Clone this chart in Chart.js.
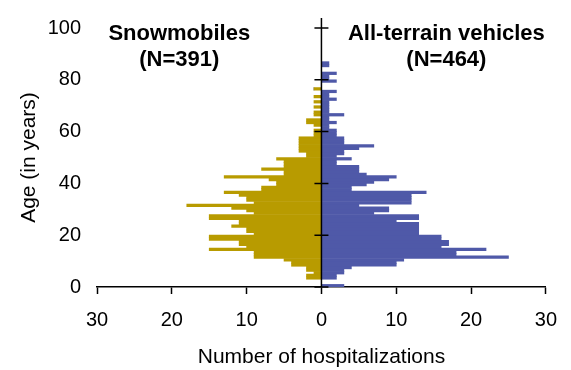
<!DOCTYPE html>
<html>
<head>
<meta charset="utf-8">
<script src="https://cdn.jsdelivr.net/npm/chart.js@4.4.0/dist/chart.umd.min.js"></script>
<style>
    html, body { margin: 0; padding: 0; background: #ffffff; }
    #cadre { width: 571px; height: 370px; }
</style>
</head>
<body>
<div id="cadre"><canvas id="graphPyramide"></canvas></div>
<script>
// ==========================================
// DONNÉES - hospitalisations par âge
// ==========================================

const ages = [
    0, 1, 2, 3, 4, 5, 6, 7, 8, 9,
    10, 11, 12, 13, 14, 15, 16, 17, 18, 19,
    20, 21, 22, 23, 24, 25, 26, 27, 28, 29,
    30, 31, 32, 33, 34, 35, 36, 37, 38, 39,
    40, 41, 42, 43, 44, 45, 46, 47, 48, 49,
    50, 51, 52, 53, 54, 55, 56, 57, 58, 59,
    60, 61, 62, 63, 64, 65, 66, 67, 68, 69,
    70, 71, 72, 73, 74, 75, 76, 77, 78, 79,
    80, 81, 82, 83, 84, 85, 86
];

// Motoneiges (côté gauche)
const motoneiges = [
    0, 0, 0, 2, 2, 1, 2, 2, 4, 4,
    5, 9, 9, 9, 15, 10, 11, 11, 15, 15,
    9, 10, 10, 12, 11, 11, 15, 15, 9, 10,
    12, 18, 9, 10, 10, 11, 13, 8, 8, 6,
    6, 7, 13, 5, 5, 8, 5, 5, 5, 6,
    2, 2, 3, 3, 3, 3, 3, 3, 1, 1,
    1, 0, 1, 2, 2, 0, 1, 1, 0, 1,
    0, 1, 0, 1, 0, 0, 1, 0, 0, 0,
    0, 0, 0, 0, 0, 0, 0
];

// Véhicules tout-terrain (côté droit)
const vtt = [
    3, 0, 0, 2, 2, 3, 3, 4, 10, 10,
    11, 25, 18, 18, 22, 16, 17, 17, 16, 16,
    13, 13, 13, 13, 13, 10, 13, 13, 7, 9,
    9, 5, 12, 12, 12, 12, 14, 4, 4, 6,
    7, 9, 10, 6, 5, 5, 5, 2, 2, 4,
    2, 3, 3, 5, 7, 3, 3, 3, 2, 2,
    2, 1, 1, 2, 1, 1, 3, 1, 1, 1,
    1, 1, 2, 1, 1, 2, 0, 0, 0, 2,
    1, 1, 2, 0, 0, 1, 1
];

const groupes = ["Snowmobiles", "All-terrain vehicles"];
const effectifs = ["(N=391)", "(N=464)"];

const graduationsX = [-30, -20, -10, 0, 10, 20, 30];
const graduationsY = [0, 20, 40, 60, 80, 100];

// ==========================================
// AXE CENTRAL + TITRES DES GROUPES
// ==========================================

const axeCentral = {
    id: "axeCentral",
    afterDatasetsDraw(chart) {
        const { ctx, scales: { x, y } } = chart;
        const x0 = x.getPixelForValue(0);

        ctx.save();
        ctx.strokeStyle = "#000000";
        ctx.lineWidth = 1.5;
        ctx.beginPath();
        ctx.moveTo(x0, y.top - 10);
        ctx.lineTo(x0, y.bottom);
        graduationsY.forEach(v => {
            const py = y.getPixelForValue(v);
            ctx.moveTo(x0 - 7, py);
            ctx.lineTo(x0 + 7, py);
        });
        ctx.stroke();

        ctx.fillStyle = "#000000";
        ctx.textAlign = "center";
        ctx.textBaseline = "alphabetic";
        ctx.font = "bold 22px 'Liberation Sans', Arial, sans-serif";
        const centres = [-19, 16.7];
        groupes.forEach((nom, i) => {
            const px = x.getPixelForValue(centres[i]);
            ctx.fillText(nom, px, y.getPixelForValue(95.3));
            ctx.fillText(effectifs[i], px, y.getPixelForValue(85.3));
        });
        ctx.restore();
    }
};

// ==========================================
// GRAPHIQUE
// ==========================================

Chart.defaults.font.family = "'Liberation Sans', Arial, sans-serif";
Chart.defaults.color = "#000000";

new Chart(document.getElementById("graphPyramide"), {

    type: "bar",

    data: {
        datasets: [
            {
                label: groupes[0],
                data: ages.map((a, i) => ({ x: -motoneiges[i], y: a + 0.5 })),
                backgroundColor: "#B89B00",
                barPercentage: 1,
                categoryPercentage: 1
            },
            {
                label: groupes[1],
                data: ages.map((a, i) => ({ x: vtt[i], y: a + 0.5 })),
                backgroundColor: "#4F59A8",
                barPercentage: 1,
                categoryPercentage: 1
            }
        ]
    },

    options: {
        indexAxis: "y",
        responsive: true,
        maintainAspectRatio: false,
        animation: false,
        layout: { padding: { top: 19, right: 24, left: 0, bottom: 0 } },
        plugins: {
            legend: { display: false },
            tooltip: { enabled: false }
        },
        scales: {
            x: {
                type: "linear",
                min: graduationsX[0],
                max: graduationsX[graduationsX.length - 1],
                stacked: true,
                afterBuildTicks: s => { s.ticks = graduationsX.map(v => ({ value: v })); },
                ticks: {
                    color: "#000000",
                    font: { size: 20 },
                    padding: 14,
                    maxRotation: 0,
                    callback: v => Math.abs(v)
                },
                grid: {
                    drawOnChartArea: false,
                    tickLength: 7,
                    tickColor: "#000000",
                    tickWidth: 1.5
                },
                border: { display: true, color: "#000000", width: 1.5 },
                title: {
                    display: true,
                    text: "Number of hospitalizations",
                    color: "#000000",
                    font: { size: 21 },
                    padding: { top: 0, bottom: 0 }
                },
                afterFit: s => { s.height = 83; }
            },
            y: {
                type: "linear",
                min: graduationsY[0],
                max: graduationsY[graduationsY.length - 1],
                stacked: true,
                offset: false,
                afterBuildTicks: s => { s.ticks = graduationsY.map(v => ({ value: v })); },
                ticks: {
                    color: "#000000",
                    font: { size: 20 },
                    padding: 16
                },
                grid: { display: false, drawTicks: false },
                border: { display: false },
                title: {
                    display: true,
                    text: "Age (in years)",
                    color: "#000000",
                    font: { size: 21 },
                    padding: { top: 17, bottom: 0 }
                },
                afterFit: s => { s.width = 97; }
            }
        }
    },

    plugins: [axeCentral]

});
</script>
</body>
</html>
